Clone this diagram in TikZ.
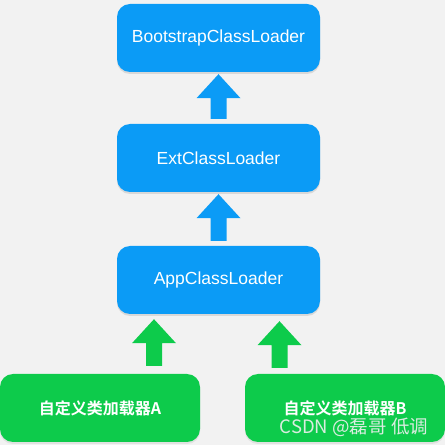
\documentclass[tikz,border=0pt]{standalone}
\usepackage{fontspec}
\setmainfont{Liberation Sans}
\newfontfamily\cjk{Noto Sans CJK SC}
\newfontfamily\cjkb{Noto Sans CJK SC Bold}
\usetikzlibrary{calc,shadows}
\definecolor{bgc}{HTML}{F2F2F2}
\definecolor{bluec}{HTML}{0B9BF6}
\definecolor{greenc}{HTML}{0DCB4B}
\newcommand\blockarrow[3]{%
  \fill[#1] let \p1=(#2), \p2=(#3) in
    (\x1-8pt,\y1) -- (\x1+8pt,\y1) -- (\x1+8pt,\y2-24pt) -- (\x1+22pt,\y2-24pt)
    -- (\x1,\y2) -- (\x1-22pt,\y2-24pt) -- (\x1-8pt,\y2-24pt) -- cycle;}
\begin{document}
\begin{tikzpicture}[x=1pt,y=1pt,
  loader/.style={rounded corners=13pt, minimum width=203pt, minimum height=68pt,
    fill=bluec, text=white, font=\fontsize{17.5}{19}\selectfont, inner sep=0pt,
    drop shadow={opacity=0.22, shadow xshift=0pt, shadow yshift=-2pt}},
  custom/.style={rounded corners=13pt, minimum width=200pt, minimum height=68pt,
    fill=greenc, text=white, font=\cjkb\fontsize{16}{18}\selectfont, inner sep=0pt,
    drop shadow={opacity=0.15, shadow xshift=0pt, shadow yshift=-2pt}}]
\fill[bgc] (0,0) rectangle (445,445);
\useasboundingbox (0,0) rectangle (445,445);
\node[loader] (boot) at (218.5,407) {BootstrapClassLoader};
\node[loader] (ext) at (218.5,287) {ExtClassLoader};
\node[loader] (app) at (218.5,165) {AppClassLoader};
\node[custom] (ca) at (100,37) {自定义类加载器A};
\node[custom] (cb) at (345,37) {\raisebox{1.5pt}{自定义类加载器B}};
\coordinate (a1b) at ($(ext.north)+(0,5)$);
\coordinate (a1t) at ($(boot.south)+(0,-2)$);
\coordinate (a2b) at ($(app.north)+(0,5)$);
\coordinate (a2t) at ($(ext.south)+(0,-2)$);
\coordinate (a3b) at ($(ca.north -| 154,0)+(0,8)$);
\coordinate (a3t) at ($(app.south -| 154,0)+(0,-5)$);
\coordinate (a4b) at ($(cb.north -| 279.5,0)+(0,6)$);
\coordinate (a4t) at ($(app.south -| 279.5,0)+(0,-7)$);
\blockarrow{bluec}{a1b}{a1t}
\blockarrow{bluec}{a2b}{a2t}
\blockarrow{greenc}{a3b}{a3t}
\blockarrow{greenc}{a4b}{a4t}
\node[text=white!88!gray, opacity=0.9, font=\cjk\fontsize{18.5}{20}\selectfont] (wm) at (354,18) {CSDN @磊哥 低调};
\end{tikzpicture}
\end{document}
